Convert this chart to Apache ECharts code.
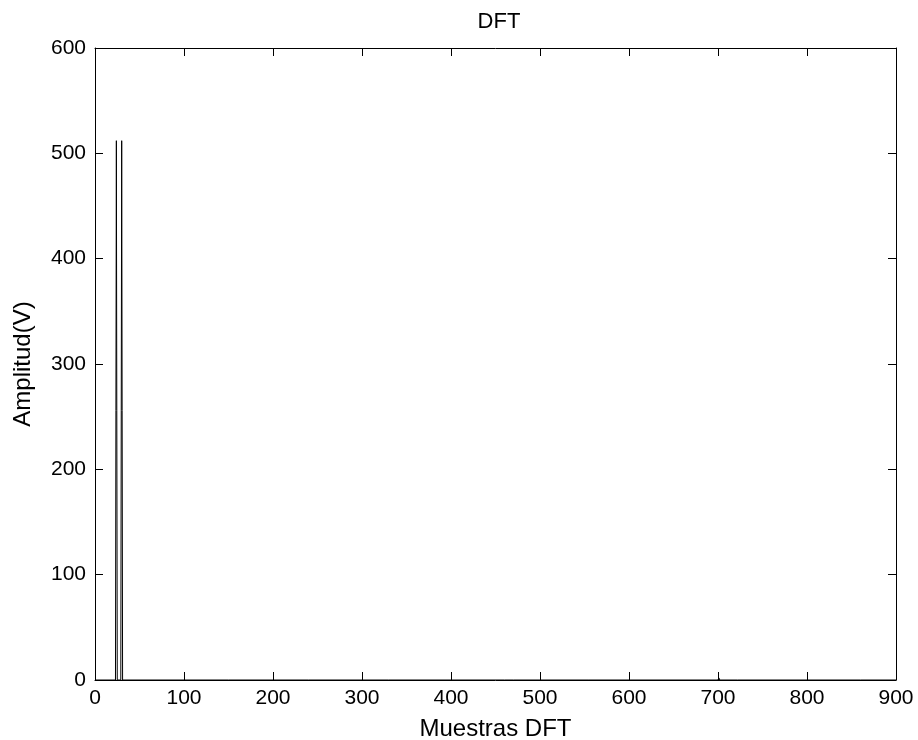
<!DOCTYPE html>
<html>
<head>
<meta charset="utf-8">
<script src="https://cdn.jsdelivr.net/npm/echarts@6/dist/echarts.min.js"></script>
<style>html,body{margin:0;padding:0;background:#fff;}#c{width:918px;height:740px;}</style>
</head>
<body>
<div id="c"></div>
<script>
// DFT magnitude samples: [sample index, amplitude]
var sampleIdx = [0, 23, 24, 25, 29, 30, 31, 150, 151, 152, 240, 241, 242, 330, 331, 332, 460, 461, 462, 470, 471, 472, 555, 556, 557, 700, 701, 702, 722, 723, 724, 860, 861, 862, 900];
var amplitude = [0, 0, 512, 0, 0, 512, 0, 0, 1.5, 0, 0, 1.2, 0, 0, 1.5, 0, 0, 1.2, 0, 0, 1.5, 0, 0, 1.5, 0, 0, 2, 0, 0, 1.5, 0, 0, 1.2, 0, 0];
var xTicks = [0, 100, 200, 300, 400, 500, 600, 700, 800, 900];
var yTicks = [0, 100, 200, 300, 400, 500, 600];
var titleText = 'DFT';
var xName = 'Muestras DFT';
var yName = 'Amplitud(V)';

var pts = sampleIdx.map(function (x, i) { return [x, amplitude[i]]; });
var font = 'Liberation Sans, Arial, sans-serif';
var chart = echarts.init(document.getElementById('c'));
var axisBase = {
  type: 'value',
  axisLine: { show: true, onZero: false, lineStyle: { color: '#000', width: 1 } },
  axisTick: { show: true, inside: true, length: 8, lineStyle: { color: '#000' } },
  splitLine: { show: false },
  axisLabel: { color: '#000', fontFamily: font, fontSize: 21 }
};
chart.setOption({
  animation: false,
  backgroundColor: '#fff',
  title: { text: titleText, left: 494, top: 6, textAlign: 'center',
    textStyle: { fontFamily: font, fontSize: 22, fontWeight: 'normal', color: '#000' } },
  grid: { left: 95, right: 22, top: 48, bottom: 60, containLabel: false, outerBoundsMode: 'none' },
  xAxis: [
    Object.assign({}, axisBase, { min: xTicks[0], max: xTicks[xTicks.length - 1], interval: 100, position: 'bottom',
      name: xName, nameLocation: 'middle', nameGap: 37,
      nameTextStyle: { fontFamily: font, fontSize: 24, color: '#000' },
      axisLabel: { color: '#000', fontFamily: font, fontSize: 21, margin: 8 } }),
    Object.assign({}, axisBase, { min: xTicks[0], max: xTicks[xTicks.length - 1], interval: 100, position: 'top',
      axisLabel: { show: false } })
  ],
  yAxis: [
    Object.assign({}, axisBase, { min: yTicks[0], max: yTicks[yTicks.length - 1], interval: 100, position: 'left',
      name: yName, nameLocation: 'middle', nameGap: 60,
      nameTextStyle: { fontFamily: font, fontSize: 24, color: '#000' },
      axisLabel: { color: '#000', fontFamily: font, fontSize: 21, margin: 9 } }),
    Object.assign({}, axisBase, { min: yTicks[0], max: yTicks[yTicks.length - 1], interval: 100, position: 'right',
      axisLabel: { show: false } })
  ],
  series: [{
    type: 'line', data: pts, xAxisIndex: 0, yAxisIndex: 0,
    showSymbol: false, symbol: 'none',
    lineStyle: { color: '#000', width: 1 }
  }]
});
</script>
</body>
</html>
